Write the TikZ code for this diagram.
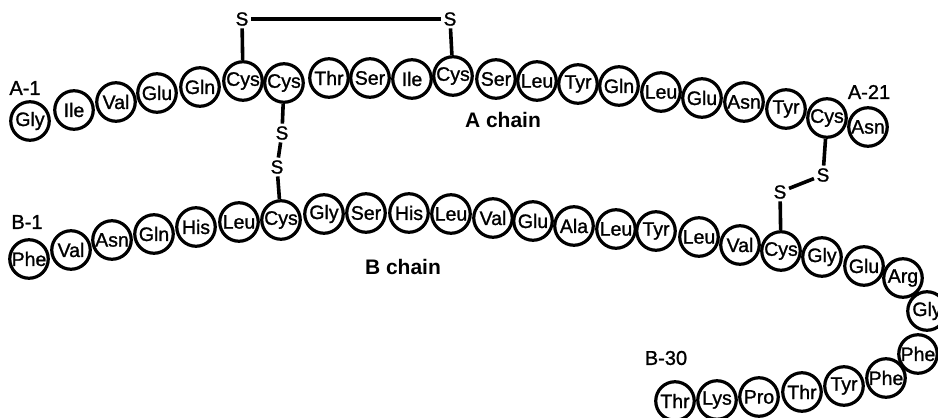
\documentclass[tikz,border=0pt]{standalone}
\usepackage{fontspec}
\setmainfont{Liberation Sans}
\newfontfamily\resfont[FakeBold=1.2]{Liberation Sans}
\begin{document}
\begin{tikzpicture}[x=1pt,y=-1pt,
  res/.style={circle,draw,line width=3.2pt,minimum size=38.5pt,inner sep=0pt,
              font=\resfont\fontsize{19.5}{19.5}\selectfont},
  sulf/.style={inner sep=2.5pt,font=\resfont\fontsize{19}{19}\selectfont},
  bond/.style={line width=3.6pt},
  tag/.style={inner sep=0pt,font=\resfont\fontsize{20}{20}\selectfont},
  chainname/.style={inner sep=0pt,font=\bfseries\fontsize{21}{21}\selectfont}]
\useasboundingbox (0,0) rectangle (938,418);
\clip (0,0) rectangle (938,418);

% A chain, residues 1-21
\foreach \n/\lab/\x/\y in {
  1/Gly/30/121, 2/Ile/74/110, 3/Val/116/102, 4/Glu/157/93, 5/Gln/200/87,
  6/Cys/243/81, 7/Cys/284/83, 8/Thr/329/78, 9/Ser/370/78, 10/Ile/412/79,
  11/Cys/453/76, 12/Ser/496/79, 13/Leu/537/81, 14/Tyr/578/84, 15/Gln/619/86,
  16/Leu/661/92, 17/Glu/702/98, 18/Asn/744/102, 19/Tyr/786/109,
  20/Cys/827/118, 21/Asn/868/127}
  \node[res] (A\n) at (\x,\y) {\lab};

% B chain, residues 1-30
\foreach \n/\lab/\x/\y in {
  1/Phe/29/259, 2/Val/71/250, 3/Asn/112/240, 4/Gln/154/234, 5/His/196/227,
  6/Leu/239/222, 7/Cys/281/220, 8/Gly/324/214, 9/Ser/366/213, 10/His/409/213,
  11/Leu/451/214, 12/Val/493/218, 13/Glu/533/221, 14/Ala/574/226,
  15/Leu/616/229, 16/Tyr/656/231, 17/Leu/699/237, 18/Val/740/245,
  19/Cys/781/251, 20/Gly/822/257, 21/Glu/864/266, 22/Arg/903/278,
  23/Gly/927/311, 24/Phe/918/354, 25/Phe/886/378, 26/Tyr/844/386,
  27/Thr/802/392, 28/Pro/759/397, 29/Lys/717/400, 30/Thr/675/401}
  \node[res] (B\n) at (\x,\y) {\lab};

% terminal labels and chain names
\node[tag] (la1)  at (25,88)   {A-1};
\node[tag] (la21) at (869,92)  {A-21};
\node[tag] (lb1)  at (27,222)  {B-1};
\node[tag] (lb30) at (666,358) {B-30};
\node[chainname] (ca) at (503,120) {A chain};
\node[chainname] (cb) at (403,267) {B chain};

% sulfur atoms
\node[sulf] (s1) at (242,19)  {S};
\node[sulf] (s2) at (450,19)  {S};
\node[sulf] (s3) at (282,133) {S};
\node[sulf] (s4) at (277,167) {S};
\node[sulf] (s5) at (823,175) {S};
\node[sulf] (s6) at (780,192) {S};

% disulfide bridges
\draw[bond] (A6) -- (s1) -- (s2) -- (A11);
\draw[bond] (A7) -- (s3) -- (s4) -- (B7);
\draw[bond] (A20) -- (s5) -- (s6) -- (B19);
\end{tikzpicture}
\end{document}
